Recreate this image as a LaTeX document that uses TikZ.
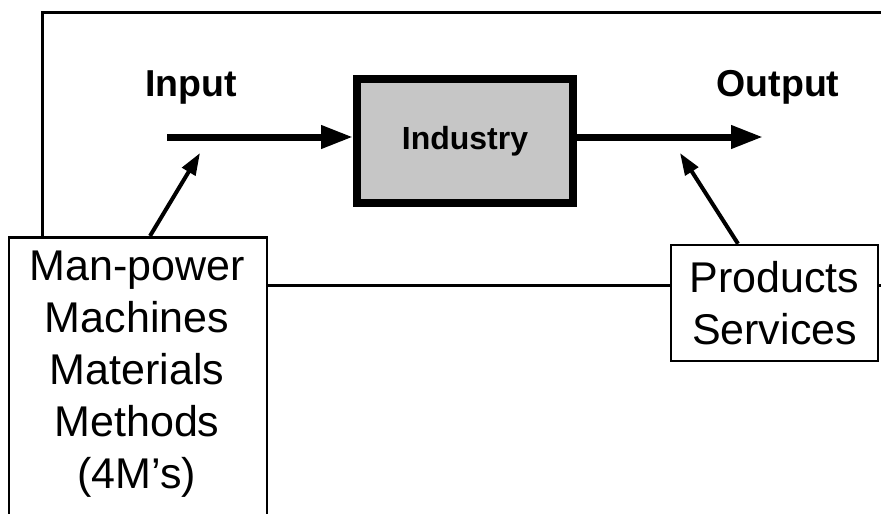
\documentclass[tikz,border=0pt]{standalone}
\usepackage{fontspec}
\setmainfont{Liberation Sans}
\usetikzlibrary{arrows.meta}
\begin{document}
\begin{tikzpicture}[x=1pt,y=-1pt,
  frameline/.style={line width=3pt},
  bigtxt/.style={font=\fontsize{43}{52}\selectfont, align=center},
  lbl/.style={font=\bfseries\fontsize{37.5}{45}\selectfont, anchor=base},
  mainarrow/.style={line width=7pt, -{Triangle[length=32pt,width=22pt]}},
  thinarrow/.style={line width=4pt, -{Triangle[length=22pt,width=15pt]}},
  box/.style={draw, line width=2.5pt, fill=white, inner sep=0pt}
]
\useasboundingbox (0,0) rectangle (881,514);
\clip (0,0) rectangle (881,514);
\fill[white] (0,0) rectangle (881,514);

% coordinates
\coordinate (fTL) at (42,12.5);
\coordinate (fTR) at (895,12.5);
\coordinate (midY) at (0,285);
\coordinate (inStart) at (167,137);
\coordinate (outEnd) at (763,137);
\coordinate (inTip) at (200,153);
\coordinate (outTip) at (680,153);
\coordinate (lbA) at (150,0);
\coordinate (psA) at (738,0);

% boxes
\node[box, minimum width=258pt, minimum height=300pt, anchor=north] (lb) at (138,236) {};
\node[bigtxt, anchor=north, inner sep=0pt] (lbt) at (137,251) {Man-power\\Machines\\Materials\\Methods\\(4M’s)};
\node[box, bigtxt, minimum width=207pt, minimum height=116pt] (ps) at (774.5,303) {Products\\Services};
\node[draw, line width=8pt, fill=gray!45, minimum width=216pt, minimum height=124pt,
      font=\bfseries\fontsize{32}{38}\selectfont] (ind) at (465,141) {Industry};

% labels
\node[lbl] (inl) at (191,96) {Input};
\node[lbl] (outl) at (778,96) {Output};

% frame
\draw[frameline] (fTR) -- (fTL) -- (fTL |- lb.north);
\draw[frameline] (lb.east |- midY) -- (ps.west |- midY);
\draw[frameline] (ps.east |- midY) -- (fTR |- midY);

% arrows
\draw[mainarrow] (inStart) -- (ind.west |- inStart);
\draw[mainarrow] (ind.east |- inStart) -- (outEnd);
\draw[thinarrow] (lb.north -| lbA) -- (inTip);
\draw[thinarrow] (ps.north -| psA) -- (outTip);
\end{tikzpicture}
\end{document}
